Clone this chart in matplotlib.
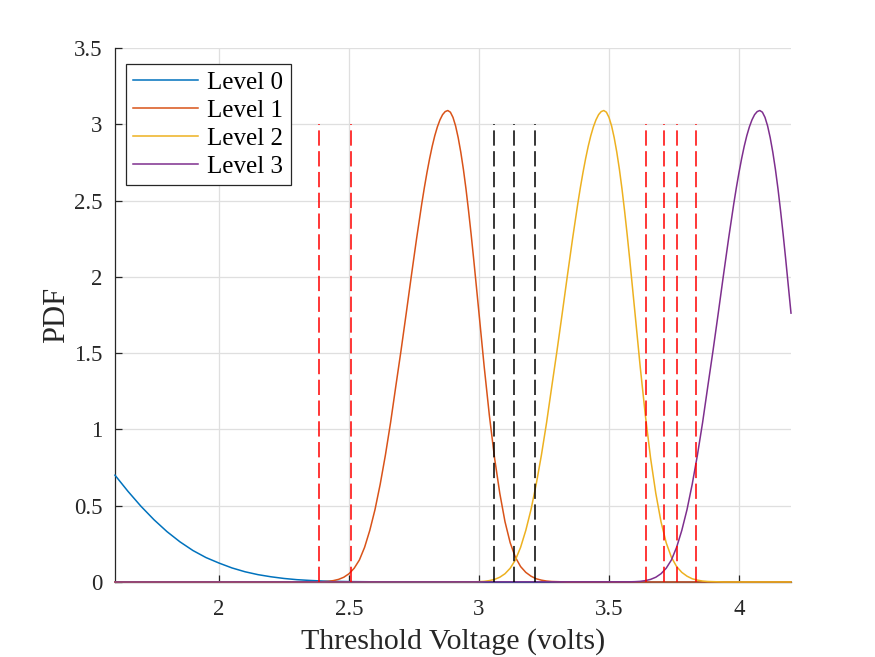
#!/usr/bin/env python3

import numpy as np
from matplotlib import pyplot as plt
from matplotlib import rc

rc('font', **{'family': 'serif', 'serif': ['Liberation Serif', 'DejaVu Serif']})

# level 0 (erased) tail
lvl0_v = [1.60, 1.65, 1.70, 1.75, 1.80, 1.85, 1.90, 1.95, 2.00, 2.05, 2.10,
          2.15, 2.20, 2.25, 2.30, 2.35, 2.40, 2.45, 2.50, 2.60, 2.80, 4.20]
lvl0_pdf = [0.700, 0.594, 0.496, 0.408, 0.330, 0.263, 0.206, 0.160, 0.124, 0.092, 0.067,
            0.048, 0.034, 0.023, 0.015, 0.010, 0.006, 0.004, 0.0025, 0.001, 0.0, 0.0]

# programmed levels 1-3 share one shape, offsets from the peak (volts)
peak_v = [2.88, 3.48, 4.08]
offsets = [-0.50, -0.48, -0.46, -0.44, -0.42, -0.40, -0.38, -0.36, -0.34, -0.32,
           -0.30, -0.28, -0.26, -0.24, -0.22, -0.20, -0.18, -0.16, -0.14, -0.12,
           -0.10, -0.09, -0.08, -0.07, -0.06, -0.05, -0.04, -0.03, -0.02, -0.01,
           0.00, 0.01, 0.02, 0.03, 0.04, 0.05, 0.06, 0.07, 0.08, 0.09,
           0.10, 0.12, 0.14, 0.16, 0.18, 0.20, 0.22, 0.24, 0.26, 0.28,
           0.30, 0.32, 0.34, 0.36, 0.38, 0.40, 0.42, 0.44, 0.46]
shape = [0.001, 0.002, 0.004, 0.009, 0.017, 0.031, 0.054, 0.090, 0.144, 0.227,
         0.338, 0.474, 0.640, 0.831, 1.045, 1.282, 1.515, 1.759, 2.008, 2.251,
         2.480, 2.586, 2.684, 2.774, 2.855, 2.925, 2.983, 3.029, 3.063, 3.083,
         3.090, 3.079, 3.045, 2.989, 2.912, 2.817, 2.705, 2.576, 2.431, 2.275,
         2.109, 1.762, 1.411, 1.090, 0.811, 0.581, 0.395, 0.257, 0.162, 0.101,
         0.063, 0.038, 0.021, 0.012, 0.006, 0.003, 0.002, 0.001, 0.000]

labels = ['Level 0', 'Level 1', 'Level 2', 'Level 3']
colors = ['#0072BD', '#D95319', '#EDB120', '#7E2F8E']

# read reference voltages
red_v = [2.385, 2.508, 3.642, 3.713, 3.762, 3.833]
black_v = [3.056, 3.136, 3.217]
line_top = 3.0

v_min, v_max = 1.6, 4.2


def main():
    fig = plt.figure(figsize=(8.75, 6.57), dpi=100)
    ax = fig.add_axes([0.1314, 0.1142, 0.7726, 0.8128])

    # curves are not clipped (MATLAB draws the zero line over the x axis)
    ax.plot(lvl0_v, lvl0_pdf, color=colors[0], lw=1.1, label=labels[0],
            zorder=3, clip_on=False)
    off = np.array(offsets)
    shp = np.array(shape)
    for c, col, lab in zip(peak_v, colors[1:], labels[1:]):
        keep = c + off <= v_max + 1e-9
        xs = np.r_[v_min, c + off[keep]]
        ys = np.r_[0.0, shp[keep]]
        if xs[-1] < v_max - 1e-9:
            xs = np.r_[xs, v_max]
            ys = np.r_[ys, 0.0]
        ax.plot(xs, ys, color=col, lw=1.1, label=lab, zorder=3, clip_on=False)

    dash = (0, (10, 3.6))
    ax.vlines(red_v, 0, line_top, colors='#FF0000', linestyles=dash, lw=1.1, zorder=4)
    ax.vlines(black_v, 0, line_top, colors='k', linestyles=dash, lw=1.1, zorder=4)

    ax.set_xlim(v_min, v_max)
    ax.set_ylim(0, 3.5)
    ax.set_xticks([2, 2.5, 3, 3.5, 4])
    ax.set_xticklabels(['2', '2.5', '3', '3.5', '4'])
    ax.set_yticks(np.arange(0, 3.51, 0.5))
    ax.set_yticklabels(['0', '0.5', '1', '1.5', '2', '2.5', '3', '3.5'])

    ax.grid(True, color='#dfdfdf', lw=0.9)
    ax.set_axisbelow(True)
    for s in ['top', 'right']:
        ax.spines[s].set_visible(False)
    for s in ['left', 'bottom']:
        ax.spines[s].set_color('#262626')
        ax.spines[s].set_linewidth(0.9)
    ax.tick_params(direction='in', length=5, width=0.9, colors='#262626',
                   labelsize=16.5)
    ax.tick_params(axis='x', pad=12)
    ax.tick_params(axis='y', pad=9)

    ax.set_xlabel('Threshold Voltage (volts)', fontsize=21.5, color='#262626', labelpad=6)
    ax.set_ylabel('PDF', fontsize=22, color='#262626', labelpad=2)

    leg = ax.legend(loc='upper left', bbox_to_anchor=(0.016, 0.97), borderaxespad=0,
                    fontsize=18, fancybox=False, framealpha=1, edgecolor='#262626',
                    handlelength=2.6, handletextpad=0.35, borderpad=0.3,
                    labelspacing=0.22)
    leg.get_frame().set_linewidth(0.9)

    plt.savefig('out.png', dpi=100)
    plt.clf()


if __name__ == '__main__':
    main()
